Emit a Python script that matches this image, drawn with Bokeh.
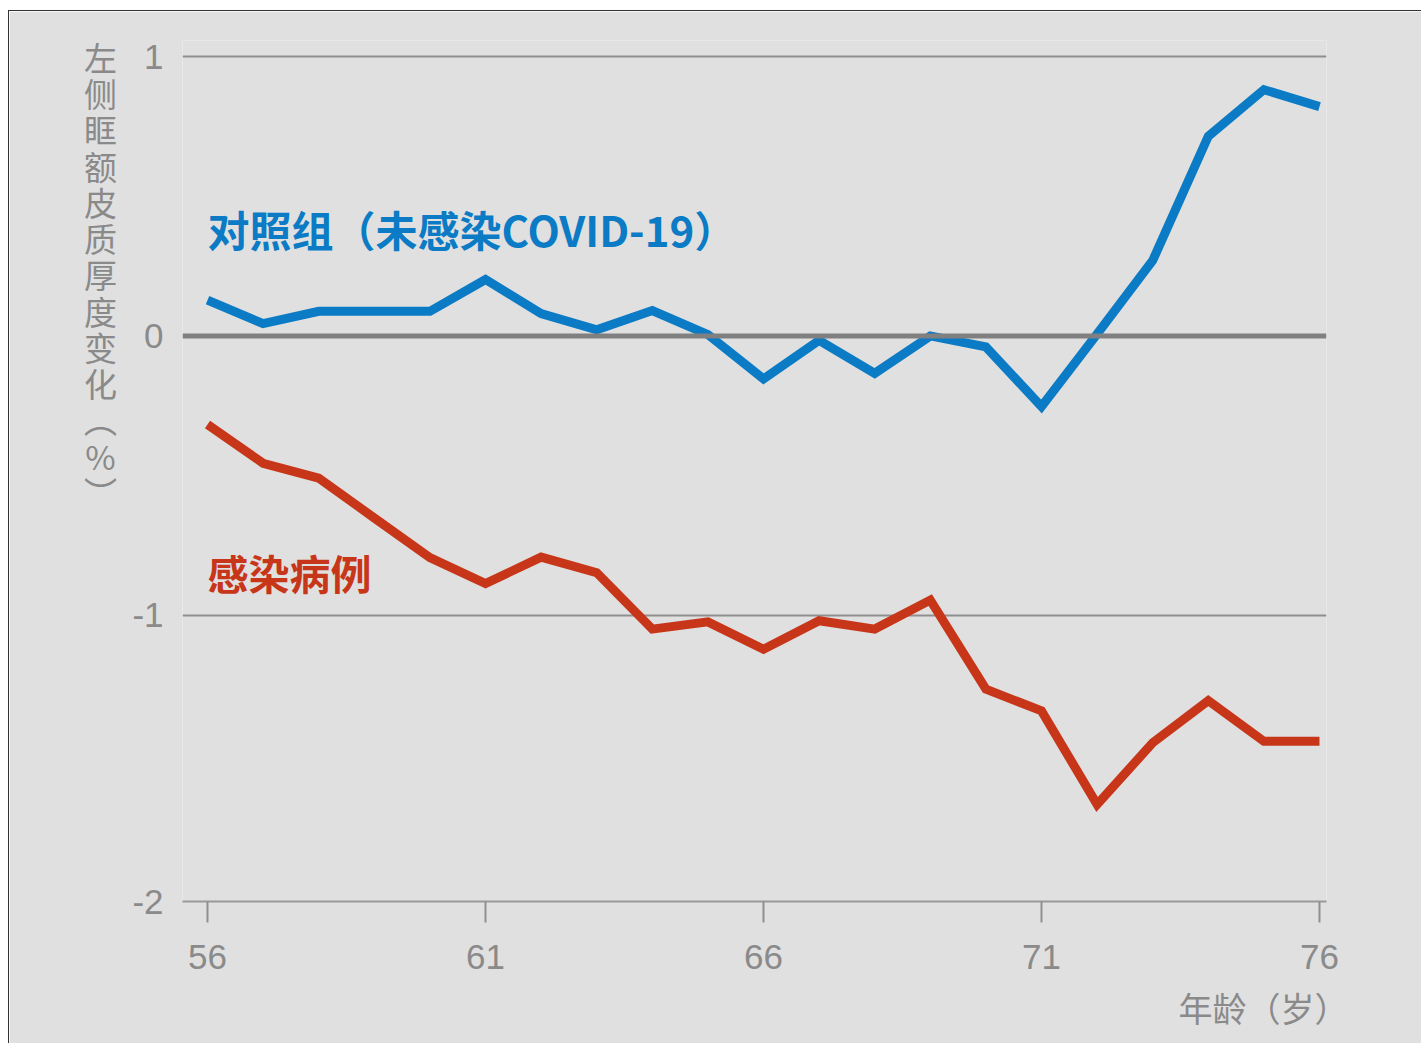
from bokeh.plotting import figure
from bokeh.models import Range1d, FixedTicker, Span, Label, CustomJSTickFormatter
from bokeh.embed import file_html
from bokeh.resources import INLINE

# ---- data ----
ages = [56, 57, 58, 59, 60, 61, 62, 63, 64, 65, 66, 67, 68, 69, 70, 71, 72, 73, 74, 75, 76]
control = [0.128, 0.044, 0.088, 0.088, 0.088, 0.202, 0.080, 0.022, 0.091, 0.005,
           -0.154, -0.016, -0.134, 0.000, -0.039, -0.253, 0.007, 0.270, 0.715, 0.882, 0.821]
infected = [-0.317, -0.456, -0.509, -0.652, -0.794, -0.887, -0.792, -0.848, -1.050, -1.024,
            -1.122, -1.020, -1.050, -0.946, -1.265, -1.343, -1.678, -1.457, -1.306, -1.452, -1.452]
x_ticks = [56, 61, 66, 71, 76]
grid_values = [1, -1]
zero_value = 0
control_name = "对照组（未感染COVID-19）"
infected_name = "感染病例"
y_title = "左侧眶额皮质厚度变化︵%︶"
x_title = "年龄（岁）"

BLUE = "#0a7bc4"
RED = "#c8361a"
GRAY = "#8a8a8a"
BG = "#e0e0e0"
CJK = "Noto Sans CJK SC"

y_top, y_bottom = 1.058, -2.0255

p = figure(width=1413, height=1033, output_backend="svg", toolbar_location=None,
           x_range=Range1d(55.55, 76.126), y_range=Range1d(y_bottom, y_top),
           min_border_left=173, min_border_right=96, min_border_top=29, min_border_bottom=143)
p.background_fill_color = BG
p.border_fill_color = BG
p.outline_line_color = None
p.styles = {"border-left": "1px solid #333", "border-top": "1px solid #333",
            "margin-left": "8px", "margin-top": "10px"}

# grid
p.xgrid.grid_line_color = None
p.ygrid.ticker = FixedTicker(ticks=grid_values)
p.ygrid.grid_line_color = "#8f8f8f"
p.ygrid.grid_line_width = 2

p.add_layout(Span(location=zero_value, dimension="width", line_color="#808080", line_width=5))

# axes
p.xaxis.ticker = FixedTicker(ticks=x_ticks)
p.xaxis.axis_line_color = "#999999"
p.xaxis.axis_line_width = 2
p.xaxis.major_tick_out = 21
p.xaxis.major_tick_in = 0
p.xaxis.major_tick_line_color = "#8f8f8f"
p.xaxis.major_tick_line_width = 2
p.xaxis.minor_tick_line_color = None
p.xaxis.major_label_standoff = 22
p.xaxis.major_label_text_font = "Liberation Sans"
p.xaxis.major_label_text_font_size = "35px"
p.xaxis.major_label_text_color = GRAY

p.yaxis.ticker = FixedTicker(ticks=[1, 0, -1, y_bottom])
p.yaxis.formatter = CustomJSTickFormatter(code="return String(Math.round(tick));")
p.yaxis.axis_line_color = None
p.yaxis.major_tick_line_color = None
p.yaxis.minor_tick_line_color = None
p.yaxis.major_tick_out = 0
p.yaxis.major_tick_in = 0
p.yaxis.major_label_standoff = 19
p.yaxis.major_label_text_font = "Liberation Sans"
p.yaxis.major_label_text_font_size = "35px"
p.yaxis.major_label_text_color = GRAY

# lines
p.line(ages, control, line_color=BLUE, line_width=9, line_join="miter")
p.line(ages, infected, line_color=RED, line_width=9, line_join="miter")

# series labels
p.add_layout(Label(x=56, y=0.386, text=control_name, text_font=CJK, text_font_style="bold",
                   text_font_size="42px", text_color=BLUE, text_align="left", text_baseline="middle"))
p.add_layout(Label(x=56, y=-0.846, text=infected_name, text_font=CJK, text_font_style="bold",
                   text_font_size="41px", text_color=RED, text_align="left", text_baseline="middle"))

# axis titles (placed in the side panels so they are not clipped to the frame)
p.add_layout(Label(x=54.076, y=1.085, text="\n".join(list(y_title)), text_font=CJK,
                   text_font_size="33px", text_color=GRAY, text_align="center", text_baseline="top",
                   text_line_height=0.755), "left")
p.add_layout(Label(x=73.464, y=-2.405, text=x_title, text_font=CJK, text_font_size="34px",
                   text_color=GRAY, text_align="left", text_baseline="middle"), "below")

open("out.html", "w").write(file_html(p, INLINE))
